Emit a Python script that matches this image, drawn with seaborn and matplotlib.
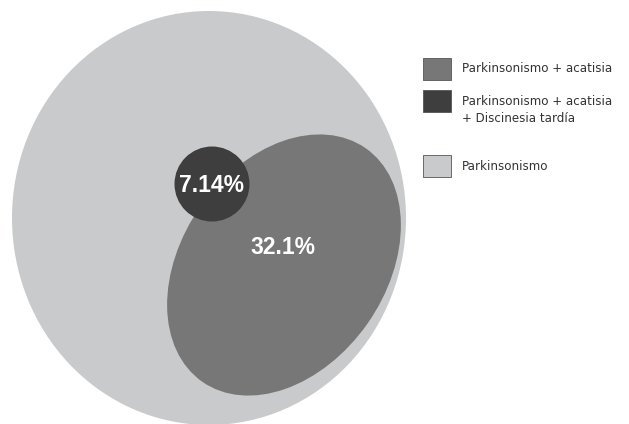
import matplotlib
matplotlib.use("Agg")
import matplotlib.pyplot as plt
import seaborn as sns
from matplotlib.patches import Ellipse, Circle, Rectangle

# datos del diagrama
labels = ["Parkinsonismo + acatisia",
          "Parkinsonismo + acatisia\n+ Discinesia tardía",
          "Parkinsonismo"]
pct_labels = ["32.1%", "7.14%"]
colors = ["#767776", "#3e3e3e", "#c9cacc"]

sns.set_theme(style="white")
plt.rcParams['font.family'] = ['Liberation Sans', 'DejaVu Sans']

fig = plt.figure(figsize=(6.29, 4.24), dpi=100)
ax = fig.add_axes([0, 0, 1, 1])
ax.set_xlim(0, 629)
ax.set_ylim(424, 0)
ax.set_aspect('equal')
ax.axis('off')

# conjunto grande: Parkinsonismo
ax.add_patch(Ellipse((209, 218), 394, 414, color=colors[2], lw=0))
# Parkinsonismo + acatisia (elipse inclinada)
ax.add_patch(Ellipse((284, 265), 285, 204, angle=-55, color=colors[0], lw=0))
# Parkinsonismo + acatisia + discinesia tardia
ax.add_patch(Circle((212, 184), 37.5, color=colors[1], lw=0))

ax.text(283, 248, pct_labels[0], color='white', fontsize=16.5, fontweight='bold',
        ha='center', va='center')
ax.text(211, 185, pct_labels[1], color='white', fontsize=16.5, fontweight='bold',
        ha='center', va='center')

# leyenda
legend_y = [69, 101, 166]
for y, lab, c in zip(legend_y, labels, [colors[0], colors[1], colors[2]]):
    ax.add_patch(Rectangle((423, y - 11), 28, 22, facecolor=c, edgecolor='#555555', lw=0.6))
    ax.text(462, y if '\n' not in lab else y + 9, lab, fontsize=8.6, color='#333333',
            family='DejaVu Sans', ha='left', va='center', linespacing=1.45)

fig.savefig("out.png", dpi=100)
